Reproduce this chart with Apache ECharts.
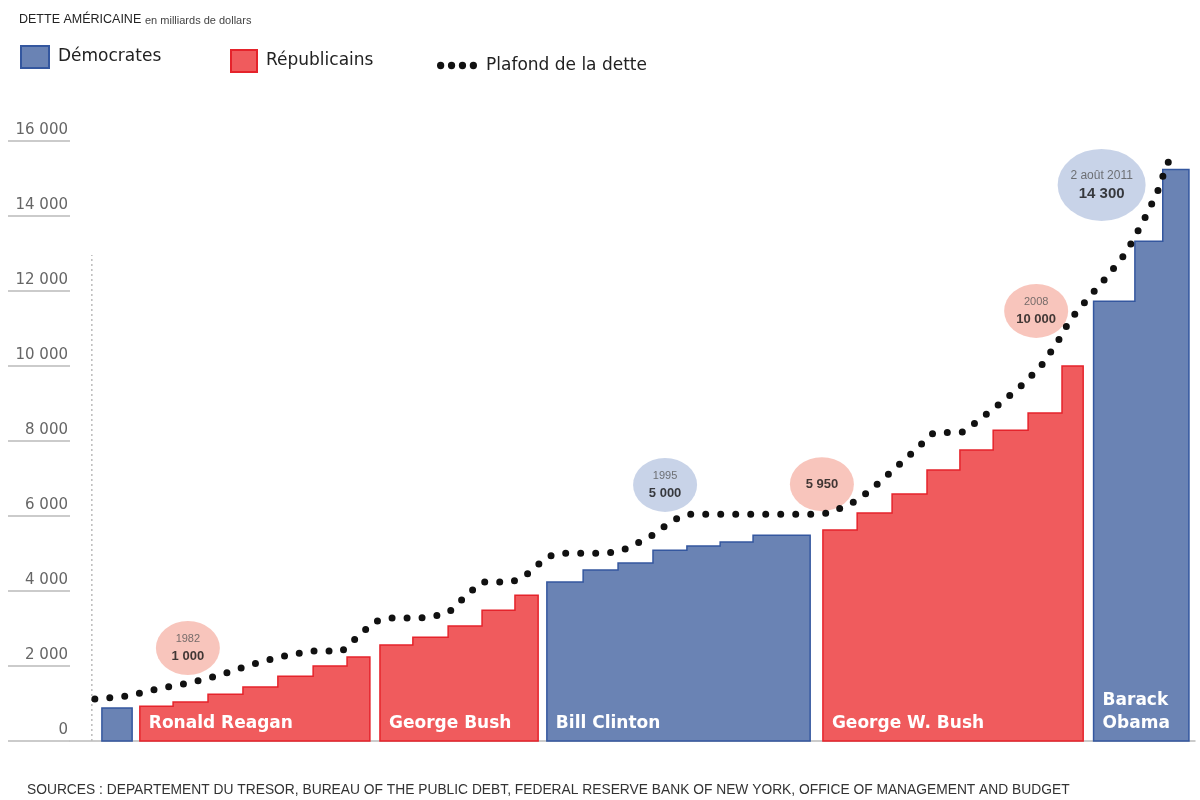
<!DOCTYPE html>
<html><head><meta charset="utf-8">
<script src="https://cdn.jsdelivr.net/npm/echarts@6/dist/echarts.min.js"></script>
<style>html,body{margin:0;padding:0;background:#fff}#c{width:1200px;height:800px}</style>
</head><body><div id="c"></div>
<script>
// ---- DATA (debt in billions of dollars, x in years) ----
const yTickLabels = ['0', '2 000', '4 000', '6 000', '8 000', '10 000', '12 000', '14 000', '16 000'];
const termNames = ['', 'Ronald Reagan', 'George Bush', 'Bill Clinton', 'George W. Bush', 'Barack\nObama'];
const termParty = ['D', 'R', 'R', 'D', 'R', 'D'];
const termEnd = [1980.85, 1987.93, 1992.94, 2001.04, 2009.17, 2012.32];
const stepStart = [
  [1979.95],
  [1981.08, 1982.07, 1983.11, 1984.15, 1985.19, 1986.24, 1987.25],
  [1988.23, 1989.21, 1990.26, 1991.27, 1992.25],
  [1993.20, 1994.28, 1995.32, 1996.36, 1997.37, 1998.36, 1999.34, 2000.35],
  [2001.42, 2002.44, 2003.48, 2004.52, 2005.50, 2006.49, 2007.53, 2008.54],
  [2009.48, 2010.71, 2011.54]
];
const stepDebt = [
  [880],
  [930, 1040, 1250, 1440, 1730, 2000, 2240],
  [2560, 2770, 3070, 3490, 3890],
  [4240, 4560, 4750, 5090, 5200, 5310, 5490, 5490],
  [5630, 6080, 6590, 7230, 7760, 8290, 8750, 10000],
  [11730, 13330, 15240]
];
const ceilingYear = [1979.74, 1980.73, 1981.62, 1982.57, 1983.47, 1984.36, 1985.25, 1986.15, 1987.10, 1987.73,
  1988.02, 1988.47, 1989.42, 1989.87, 1990.29, 1990.91, 1991.27, 1992.16, 1992.55, 1993.20,
  1993.59, 1994.99, 1995.47, 1996.27, 1996.96, 1997.40, 2001.13, 2001.63, 2002.47, 2003.12,
  2004.07, 2004.70, 2005.59, 2005.95, 2006.64, 2007.29, 2007.89, 2008.39, 2008.78, 2009.32,
  2009.85, 2010.39, 2010.66, 2011.01, 2011.37, 2011.64, 2011.82];
const ceilingDebt = [1120, 1200, 1390, 1550, 1760, 2030, 2240, 2400, 2400, 2910,
  3170, 3280, 3280, 3330, 3440, 3970, 4240, 4240, 4400, 4910,
  5010, 5010, 5090, 5440, 5890, 6050, 6050, 6080, 6430, 6910,
  7680, 8210, 8240, 8480, 8960, 9440, 9970, 10610, 11230, 11810,
  12350, 12960, 13360, 13950, 14610, 15310, 15650];
const noteYear = [1982.51, 1996.72, 2001.39, 2007.77, 2009.72];
const noteDebt = [2480, 6830, 6850, 11470, 14830];
const noteTop = ['1982', '1995', '', '2008', '2 août 2011'];
const noteBottom = ['1 000', '5 000', '5 950', '10 000', '14 300'];
const noteParty = ['R', 'D', 'R', 'R', 'D'];
const guideYear = 1979.65, guideTop = 12960;
const sourcesText = 'SOURCES : DEPARTEMENT DU TRESOR, BUREAU OF THE PUBLIC DEBT, FEDERAL RESERVE BANK OF NEW YORK, OFFICE OF MANAGEMENT AND BUDGET';

// ---- STYLE ----
const COL = {
  D: { fill: '#6a83b4', stroke: '#34579f', bubble: '#bac8e2' },
  R: { fill: '#f05b5d', stroke: '#e5232b', bubble: '#f6b6ab' }
};
const FONT = '"Liberation Sans", Arial, sans-serif';
const WIDE = '"DejaVu Sans", Verdana, sans-serif';

function termShape(params, api) {
  const i = api.value(2);
  const xs = stepStart[i], vs = stepDebt[i];
  const pts = [api.coord([xs[0], 0])];
  for (let k = 0; k < xs.length; k++) {
    const xNext = k < xs.length - 1 ? xs[k + 1] : termEnd[i];
    pts.push(api.coord([xs[k], vs[k]]));
    pts.push(api.coord([xNext, vs[k]]));
  }
  pts.push(api.coord([termEnd[i], 0]));
  const c = COL[termParty[i]];
  const children = [{
    type: 'polygon', shape: { points: pts },
    style: { fill: c.fill, stroke: c.stroke, lineWidth: 1.5 }
  }];
  if (termNames[i]) {
    children.push({
      type: 'text', x: pts[0][0] + 9, y: pts[0][1] - 6,
      style: { text: termNames[i], fill: '#fff', font: 'bold 17px ' + WIDE,
        align: 'left', verticalAlign: 'bottom', lineHeight: 23 }
    });
  }
  return { type: 'group', children };
}

function termData(party) {
  const out = [];
  termParty.forEach((p, i) => { if (p === party) out.push([stepStart[i][0], termEnd[i], i]); });
  return out;
}

const legendText = { fontSize: 17, color: '#222', fontFamily: WIDE, padding: [0, 0, 0, 4] };

const chart = echarts.init(document.getElementById('c'));
chart.setOption({
  backgroundColor: '#fff',
  animation: false,
  title: [
    { text: 'DETTE AMÉRICAINE', left: 14, top: 8, textStyle: { fontSize: 12.5, fontWeight: 'normal', color: '#222', fontFamily: FONT } },
    { text: 'en milliards de dollars', left: 140, top: 10, textStyle: { fontSize: 11, fontWeight: 'normal', color: '#444', fontFamily: FONT } },
    { text: sourcesText, left: 22, top: 778, textStyle: { fontSize: 13.8, fontWeight: 'normal', color: '#333', fontFamily: FONT } }
  ],
  legend: [
    { data: [{ name: 'Démocrates', icon: 'rect', itemStyle: { color: COL.D.fill, borderColor: COL.D.stroke, borderWidth: 2 } }],
      left: 15, top: 40, itemWidth: 28, itemHeight: 22, selectedMode: false, textStyle: legendText },
    { data: [{ name: 'Républicains', icon: 'rect', itemStyle: { color: COL.R.fill, borderColor: COL.R.stroke, borderWidth: 2 } }],
      left: 225, top: 44, itemWidth: 26, itemHeight: 22, selectedMode: false, textStyle: legendText },
    { data: [{ name: 'Plafond de la dette',
        icon: 'path://M0,4a4,4 0 1,0 8,0a4,4 0 1,0 -8,0M12,4a4,4 0 1,0 8,0a4,4 0 1,0 -8,0M24,4a4,4 0 1,0 8,0a4,4 0 1,0 -8,0M36,4a4,4 0 1,0 8,0a4,4 0 1,0 -8,0Z',
        itemStyle: { color: '#111', borderWidth: 0 } }],
      left: 432, top: 52, itemWidth: 40, itemHeight: 8, selectedMode: false,
      lineStyle: { width: 0 }, textStyle: legendText }
  ],
  grid: { left: 70, right: 5, top: 141, bottom: 59, containLabel: false },
  xAxis: {
    type: 'value', min: 1979, max: 2012.5,
    axisLine: { show: true, lineStyle: { color: '#bbb', width: 1.5 } },
    axisTick: { show: false }, axisLabel: { show: false }, splitLine: { show: false }
  },
  yAxis: {
    type: 'value', min: 0, max: 16000, interval: 2000,
    axisLine: { show: false },
    axisTick: { show: true, length: 62, lineStyle: { color: '#bbb', width: 1.5 } },
    splitLine: { show: false },
    axisLabel: { margin: 2, align: 'right', verticalAlign: 'bottom', padding: [0, 0, 3, 0],
      fontSize: 15, color: '#666', fontFamily: WIDE,
      formatter: v => yTickLabels[Math.round(v / 2000)] }
  },
  series: [
    { name: 'Démocrates', type: 'custom', renderItem: termShape, itemStyle: { color: COL.D.fill },
      encode: { x: [0, 1] }, data: termData('D'), z: 2 },
    { name: 'Républicains', type: 'custom', renderItem: termShape, itemStyle: { color: COL.R.fill },
      encode: { x: [0, 1] }, data: termData('R'), z: 2 },
    { name: 'guide', type: 'line', data: [[guideYear, 0], [guideYear, guideTop]], symbol: 'none',
      lineStyle: { color: '#bbb', width: 1.5, type: [2, 3] }, z: 1, silent: true },
    { name: 'notes', type: 'scatter', z: 3, silent: true,
      data: noteYear.map((x, k) => ({
        value: [x, noteDebt[k]],
        symbol: 'circle',
        symbolSize: noteTop[k].length > 6 ? [88, 72] : [64, 54],
        itemStyle: { color: COL[noteParty[k]].bubble },
        label: {
          show: true, position: 'inside',
          formatter: noteTop[k] ? '{a|' + noteTop[k] + '}\n{b|' + noteBottom[k] + '}' : '{b|' + noteBottom[k] + '}',
          rich: {
            a: { fontSize: noteTop[k].length > 6 ? 12 : 11, color: '#555', fontFamily: FONT, lineHeight: 17 },
            b: { fontSize: noteTop[k].length > 6 ? 15 : 13, fontWeight: 'bold', color: '#111', fontFamily: FONT, lineHeight: 18 }
          }
        }
      }))
    },
    { name: 'Plafond de la dette', type: 'line', z: 5, symbol: 'none',
      itemStyle: { color: '#111' },
      data: ceilingYear.map((x, k) => [x, ceilingDebt[k]]),
      lineStyle: { color: '#111', width: 7, type: [0, 15], cap: 'round', join: 'round' } }
  ]
});
</script>
</body></html>
